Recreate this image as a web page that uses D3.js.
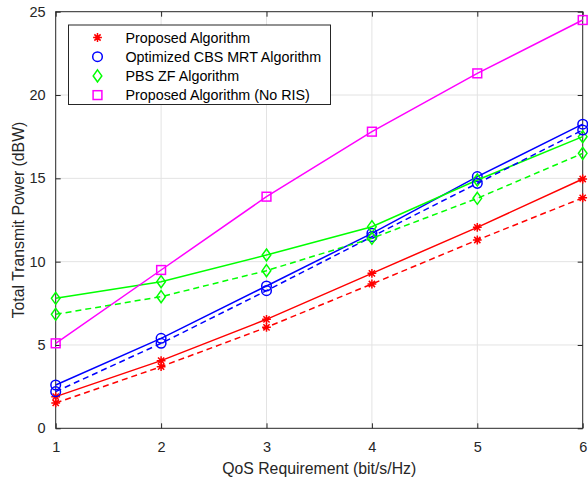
<!DOCTYPE html>
<html>
<head>
<meta charset="utf-8">
<script src="https://cdn.jsdelivr.net/npm/d3@7"></script>
<style>
  body { margin: 0; background: #fff; }
  svg { font-family: "Liberation Sans", Arial, sans-serif; }
</style>
</head>
<body>
<svg id="chart" width="588" height="484"></svg>
<script>
/* Data */
var qos = [1, 2, 3, 4, 5, 6];
var proposed = [1.9, 4.06, 6.54, 9.3, 12.06, 14.96];
var proposedDash = [1.52, 3.7, 6.06, 8.66, 11.3, 13.83];
var cbsMrt = [2.6, 5.4, 8.54, 11.7, 15.1, 18.25];
var cbsMrtDash = [2.2, 5.1, 8.26, 11.5, 14.7, 17.9];
var pbsZf = [7.8, 8.8, 10.4, 12.1, 14.9, 17.5];
var pbsZfDash = [6.84, 7.9, 9.46, 11.4, 13.8, 16.5];
var noRis = [5.1, 9.5, 13.9, 17.8, 21.3, 24.5];
var xTicks = [1, 2, 3, 4, 5, 6];
var yTicks = [0, 5, 10, 15, 20, 25];
var legendNames = ["Proposed Algorithm", "Optimized CBS MRT Algorithm", "PBS ZF Algorithm", "Proposed Algorithm (No RIS)"];

var series = [
  { values: proposed, color: "#ff0000", marker: "star", dash: null },
  { values: cbsMrt, color: "#0000ff", marker: "circle", dash: null },
  { values: pbsZf, color: "#00ff00", marker: "diamond", dash: null },
  { values: noRis, color: "#ff00ff", marker: "square", dash: null },
  { values: proposedDash, color: "#ff0000", marker: "star", dash: "6,4" },
  { values: cbsMrtDash, color: "#0000ff", marker: "circle", dash: "6,4" },
  { values: pbsZfDash, color: "#00ff00", marker: "diamond", dash: "6,4" }
];

var svg = d3.select("svg#chart");
var margin = { left: 55.7, right: 5.3, top: 11.7, bottom: 55.7 };
var W = 588 - margin.left - margin.right;
var H = 484 - margin.top - margin.bottom;

var x = d3.scaleLinear().domain([1, 6]).range([0, W]);
var y = d3.scaleLinear().domain([0, 25]).range([H, 0]);

var g = svg.append("g").attr("transform", `translate(${margin.left},${margin.top})`);

/* grid */
g.append("g").selectAll("line").data(xTicks.slice(1, -1)).enter().append("line")
  .attr("x1", d => x(d)).attr("x2", d => x(d)).attr("y1", 0).attr("y2", H)
  .attr("stroke", "#e3e3e3").attr("stroke-width", 1);
g.append("g").selectAll("line").data(yTicks.slice(1, -1)).enter().append("line")
  .attr("y1", d => y(d)).attr("y2", d => y(d)).attr("x1", 0).attr("x2", W)
  .attr("stroke", "#e3e3e3").attr("stroke-width", 1);

/* axes */
function styleAxis(sel) {
  sel.select(".domain").remove();
  sel.selectAll(".tick line").attr("stroke", "#262626");
  sel.selectAll(".tick text").attr("fill", "#262626").style("font-size", "14.5px");
}
var fmt = d3.format("d");
g.append("g").attr("transform", `translate(0,${H})`)
  .call(d3.axisBottom(x).tickValues(xTicks).tickSize(-5).tickPadding(13).tickFormat(fmt))
  .call(styleAxis);
g.append("g")
  .call(d3.axisTop(x).tickValues(xTicks).tickSize(-5).tickFormat(""))
  .call(styleAxis);
g.append("g")
  .call(d3.axisLeft(y).tickValues(yTicks).tickSize(-5).tickPadding(10).tickFormat(fmt))
  .call(styleAxis);
g.append("g").attr("transform", `translate(${W},0)`)
  .call(d3.axisRight(y).tickValues(yTicks).tickSize(-5).tickFormat(""))
  .call(styleAxis);

g.append("rect").attr("width", W).attr("height", H)
  .attr("fill", "none").attr("stroke", "#262626").attr("stroke-width", 1);

/* labels */
svg.append("text").attr("x", margin.left + W / 2).attr("y", 474)
  .attr("text-anchor", "middle").attr("fill", "#262626").style("font-size", "15.8px")
  .text("QoS Requirement (bit/s/Hz)");
svg.append("text")
  .attr("transform", `translate(24,${margin.top + H / 2}) rotate(-90)`)
  .attr("text-anchor", "middle").attr("fill", "#262626").style("font-size", "15.8px")
  .text("Total Transmit Power (dBW)");

/* markers */
function drawMarker(sel, type, color) {
  if (type === "star") {
    var r = 4.4, d = r * 0.7071;
    sel.append("path")
      .attr("d", `M${-r},0H${r}M0,${-r}V${r}M${-d},${-d}L${d},${d}M${-d},${d}L${d},${-d}`)
      .attr("stroke", color).attr("stroke-width", 1.5).attr("fill", "none");
  } else if (type === "circle") {
    sel.append("circle").attr("r", 4.8)
      .attr("stroke", color).attr("stroke-width", 1.5).attr("fill", "none");
  } else if (type === "diamond") {
    sel.append("path").attr("d", "M0,-6L4.3,0L0,6L-4.3,0Z")
      .attr("stroke", color).attr("stroke-width", 1.5).attr("fill", "none");
  } else if (type === "square") {
    sel.append("rect").attr("x", -4.4).attr("y", -4.4).attr("width", 8.8).attr("height", 8.8)
      .attr("stroke", color).attr("stroke-width", 1.5).attr("fill", "none");
  }
}

var line = d3.line().x((d, i) => x(qos[i])).y(d => y(d));

series.forEach(function (s) {
  g.append("path").datum(s.values)
    .attr("d", line)
    .attr("fill", "none")
    .attr("stroke", s.color)
    .attr("stroke-width", 1.5)
    .attr("stroke-dasharray", s.dash);
  g.append("g").selectAll("g").data(s.values).enter().append("g")
    .attr("transform", (d, i) => `translate(${x(qos[i])},${y(d)})`)
    .each(function () { drawMarker(d3.select(this), s.marker, s.color); });
});

/* legend */
var lg = svg.append("g").attr("transform", "translate(68.5,25)");
lg.append("rect").attr("width", 262).attr("height", 79.5)
  .attr("fill", "#fff").attr("stroke", "#262626").attr("stroke-width", 1);
legendNames.forEach(function (name, i) {
  var row = lg.append("g").attr("transform", `translate(0,${12.5 + i * 19.2})`);
  drawMarker(row.append("g").attr("transform", "translate(29,0)"), series[i].marker, series[i].color);
  row.append("text").attr("x", 57).attr("y", 5)
    .attr("fill", "#000").style("font-size", "14.3px").text(name);
});
</script>
</body>
</html>
